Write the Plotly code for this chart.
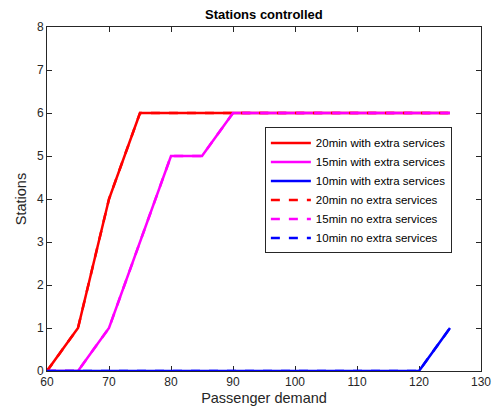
import plotly.graph_objects as go

demand = [60, 65, 70, 75, 80, 85, 90, 95, 100, 105, 110, 115, 120, 125]
with_20 = [0, 1, 4, 6, 6, 6, 6, 6, 6, 6, 6, 6, 6, 6]
with_15 = [0, 0, 1, 3, 5, 5, 6, 6, 6, 6, 6, 6, 6, 6]
with_10 = [0, 0, 0, 0, 0, 0, 0, 0, 0, 0, 0, 0, 0, 1]
no_20 = [0, 1, 4, 6, 6, 6, 6, 6, 6, 6, 6, 6, 6, 6]
no_15 = [0, 0, 1, 3, 5, 5, 6, 6, 6, 6, 6, 6, 6, 6]
no_10 = [0, 0, 0, 0, 0, 0, 0, 0, 0, 0, 0, 0, 0, 1]

series = [
    ("20min with extra services", with_20, "#ff0000", "solid"),
    ("15min with extra services", with_15, "#ff00ff", "solid"),
    ("10min with extra services", with_10, "#0000ff", "solid"),
    ("20min no extra services", no_20, "#ff0000", "dash"),
    ("15min no extra services", no_15, "#ff00ff", "dash"),
    ("10min no extra services", no_10, "#0000ff", "dash"),
]

fig = go.Figure()
for name, ys, color, dash in series:
    fig.add_trace(go.Scatter(x=demand, y=ys, mode="lines", name=name, cliponaxis=False,
                             line=dict(color=color, width=2.5, dash=dash)))

axis_common = dict(showline=True, linecolor="#262626", linewidth=1, mirror="ticks",
                   ticks="inside", ticklen=5, tickcolor="#262626", showgrid=False,
                   zeroline=False, automargin=False, layer="below traces",
                   tickfont=dict(size=12, color="#262626"))

fig.update_layout(
    width=496, height=415,
    margin=dict(l=47, r=15, t=27, b=44),
    paper_bgcolor="white", plot_bgcolor="white",
    font=dict(family="Liberation Sans, Arial, sans-serif", color="#262626"),
    title=dict(text="<b>Stations controlled</b>", x=0.532, xanchor="center",
               y=0.965, yanchor="middle", automargin=False,
               font=dict(size=13, color="black")),
    xaxis=dict(range=[60, 130], dtick=10, title=dict(text="Passenger demand", font=dict(size=14.5), standoff=4), **axis_common),
    yaxis=dict(range=[0, 8], dtick=1, title=dict(text="Stations", font=dict(size=14.5), standoff=6), **axis_common),
    legend=dict(x=0.502, y=0.708, xanchor="left", yanchor="top",
                bordercolor="#262626", borderwidth=1, bgcolor="white",
                font=dict(size=11.5, color="black"), tracegroupgap=0,
                itemwidth=40),
    showlegend=True,
)

fig.write_html("out.html", config={"displayModeBar": False},
               post_script="document.body.style.margin='0px';")
